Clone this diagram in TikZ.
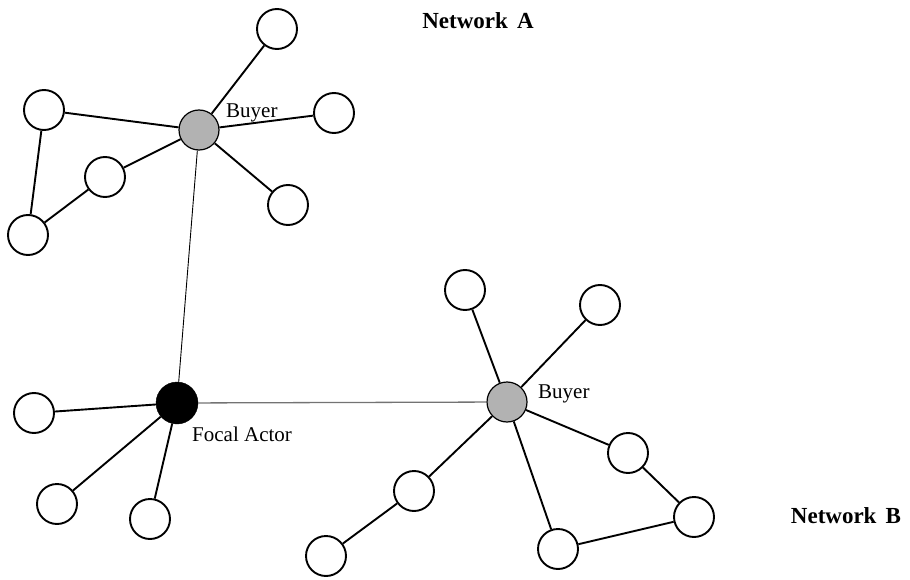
\documentclass[tikz,border=0pt]{standalone}
\usepackage{fontspec}
\setmainfont{Liberation Serif}
\begin{document}
\begin{tikzpicture}[x=1pt,y=-1pt,
  nd/.style={circle,draw=black,line width=1.9pt,fill=white,minimum size=40pt,inner sep=0pt},
  buyer/.style={nd,fill=black!30,line width=1.2pt},
  focal/.style={circle,fill=black,draw=black,minimum size=42pt,inner sep=0pt},
  ln/.style={line width=1.9pt},
  thin/.style={line width=0.9pt},
  lbl/.style={font=\fontsize{21}{24}\selectfont,inner sep=0pt},
  ttl/.style={font=\fontsize{23}{26}\selectfont\bfseries,inner sep=0pt}]
\useasboundingbox (0,0) rectangle (910,580);
% Network A
\node[buyer] (ba) at (199,130) {};
\node[nd] (a1) at (277,29) {};
\node[nd] (a2) at (334,113) {};
\node[nd] (a3) at (288,205) {};
\node[nd] (a4) at (44,110) {};
\node[nd] (a5) at (105,177) {};
\node[nd] (a6) at (28,235) {};
% Focal
\node[focal] (f) at (177,403) {};
\node[nd] (f1) at (34,413) {};
\node[nd] (f2) at (57,504) {};
\node[nd] (f3) at (150,519) {};
% Network B
\node[buyer] (bb) at (507,402) {};
\node[nd] (b1) at (465,290) {};
\node[nd] (b2) at (600,305) {};
\node[nd] (b3) at (628,453) {};
\node[nd] (b4) at (694,517) {};
\node[nd] (b5) at (558,549) {};
\node[nd] (b6) at (414,491) {};
\node[nd] (b7) at (326,556) {};
% edges
\draw[thin] (ba) -- (f);
\draw[draw=black!55,line width=1.3pt] (f) -- (bb);
\foreach \t in {a1,a2,a3,a4,a5} \draw[ln] (ba) -- (\t);
\draw[ln] (a4) -- (a6);
\draw[ln] (a5) -- (a6);
\foreach \t in {f1,f2,f3} \draw[ln] (f) -- (\t);
\foreach \t in {b1,b2,b3,b5,b6} \draw[ln] (bb) -- (\t);
\draw[ln] (b6) -- (b7);
\draw[ln] (b3) -- (b4);
\draw[ln] (b4) -- (b5);
% labels
\node[lbl,anchor=west] (lba) at (226,113) {Buyer};
\node[lbl,anchor=west] (lbb) at (538,394) {Buyer};
\node[lbl,anchor=west] (lf) at (192,434) {Focal Actor};
\node[ttl] (na) at (478,21) {Network\hspace{0.4em}A};
\node[ttl] (nb) at (846,516) {Network\hspace{0.4em}B};
\end{tikzpicture}
\end{document}
